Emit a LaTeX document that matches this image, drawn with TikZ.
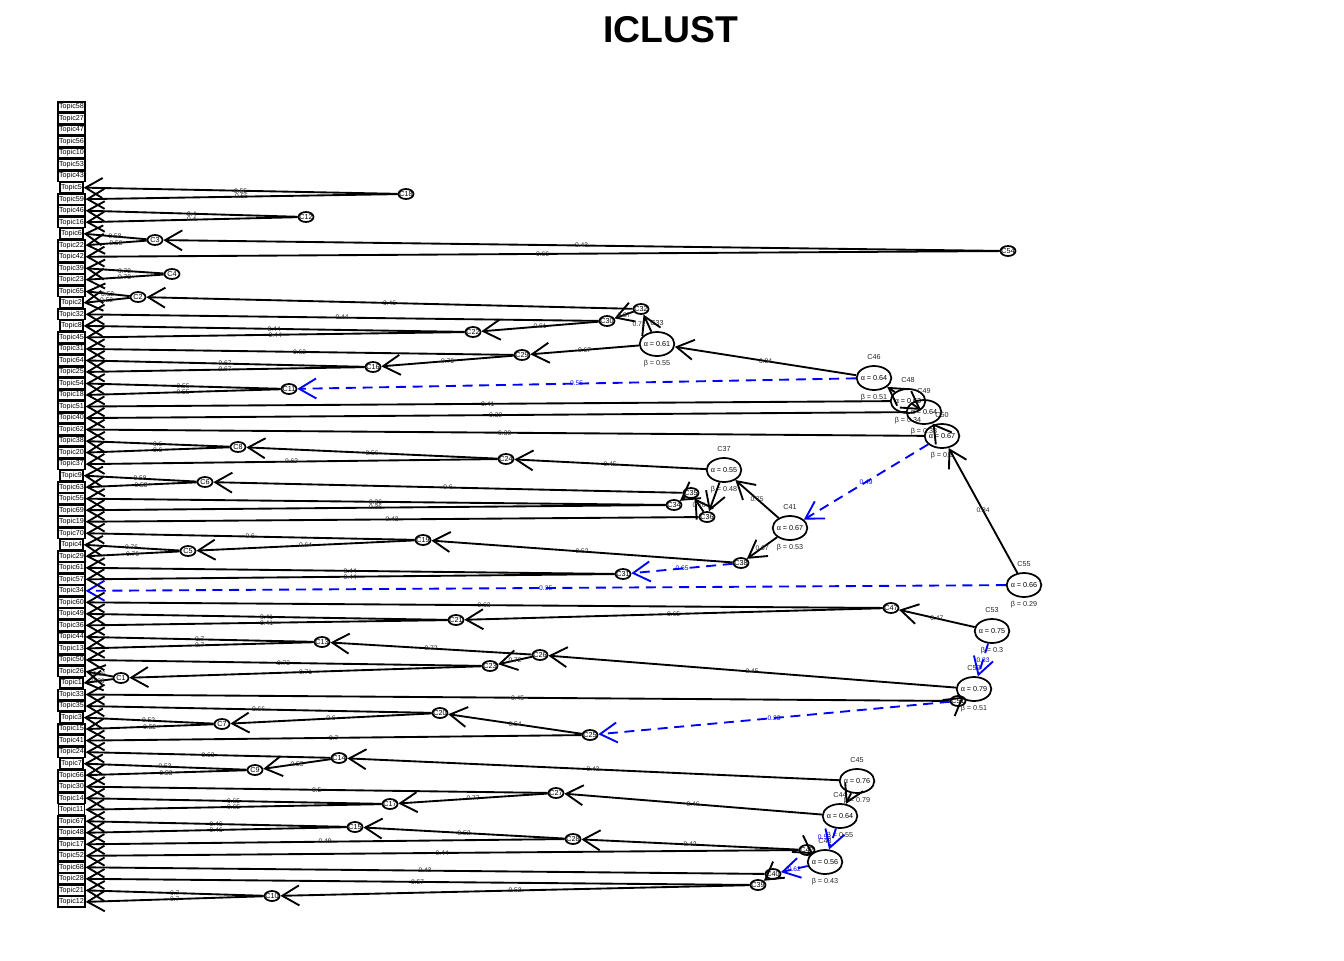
\documentclass[tikz,border=0pt]{standalone}
\usepackage{fontspec}
\setmainfont{Liberation Sans}
\usetikzlibrary{shapes.geometric,arrows.meta}
\newcommand\zc[1]{\makebox[0pt]{#1}}
\tikzset{
 every node/.style={font=\fontsize{5.4}{6}\selectfont},
 topic/.style={draw, line width=1.2pt, rectangle, inner xsep=0.7pt, inner ysep=0pt, minimum height=7.8pt, fill=white},
 sc/.style={draw, ellipse, line width=1.3pt, minimum width=11.25pt, minimum height=7.5pt, inner sep=0pt},
 bc/.style={draw, ellipse, line width=1.3pt, minimum width=26pt, minimum height=18pt, inner sep=0pt},
 link/.style={line width=1.4pt, -{Straight Barb[length=12.75pt,width=15pt]}},
 neg/.style={link, draw=blue, dash pattern=on 7.5pt off 5pt},
 lab/.style={inner sep=0pt, font=\fontsize{5}{6}\selectfont, text=black!85},
 nlab/.style={lab, text=blue},
}
\newcommand\lk[3]{\draw[link] (#1) -- (#2) node[lab,midway]{#3};}
\newcommand\nk[3]{\draw[neg] (#1) -- (#2) node[nlab,midway]{#3};}
\newcommand\sclu[3]{\node[sc] (#1) at (#2,#3) {\zc{#1}};}
\newcommand\bclu[5]{\node[bc] (#1) at (#2,#3) {\zc{α = #4}};
 \node[lab,font=\fontsize{5.4}{6}\selectfont] (#1name) at (#2,#3-21) {#1};
 \node[lab,font=\fontsize{5.4}{6}\selectfont] (#1beta) at (#2,#3+20) {β = #5};}
\begin{document}
\begin{tikzpicture}[x=0.75pt,y=-0.75pt]
\useasboundingbox (0,0) rectangle (1344,960);
\node[font=\bfseries\fontsize{28}{30}\selectfont] (title) at (671,30) {ICLUST};
\foreach \t [count=\i from 0] in {58,27,47,56,10,53,43,5,59,46,16,6,22,42,39,23,65,2,32,8,45,31,64,25,54,18,51,40,62,38,20,37,9,63,55,69,19,70,4,29,61,57,34,60,49,36,44,13,50,26,1,33,35,3,15,41,24,7,66,30,14,11,67,48,17,52,68,28,21,12}
 {\node[topic] (T\t) at (71.5,{107+11.52*\i}) {Topic\t};}
% small clusters
\sclu{C18}{406}{194}
\sclu{C12}{306}{217}
\sclu{C3}{155}{240}
\sclu{C54}{1008}{251}
\sclu{C4}{172}{274}
\sclu{C2}{138}{297}
\sclu{C32}{641}{309}
\sclu{C30}{607}{321}
\sclu{C22}{473}{332}
\sclu{C29}{522}{355}
\sclu{C16}{373}{367}
\sclu{C11}{289}{389}
\sclu{C8}{238}{447}
\sclu{C24}{506}{459}
\sclu{C6}{205}{482}
\sclu{C35}{691}{493}
\sclu{C34}{674}{505}
\sclu{C36}{707}{517}
\sclu{C19}{423}{540}
\sclu{C5}{188}{551}
\sclu{C38}{741}{563}
\sclu{C31}{623}{574}
\sclu{C47}{891}{608}
\sclu{C21}{456}{620}
\sclu{C13}{322}{642}
\sclu{C26}{540}{655}
\sclu{C23}{490}{666}
\sclu{C1}{121}{678}
\sclu{C51}{958}{701}
\sclu{C20}{440}{713}
\sclu{C7}{222}{724}
\sclu{C25}{590}{735}
\sclu{C14}{339}{758}
\sclu{C9}{255}{770}
\sclu{C27}{556}{793}
\sclu{C17}{390}{804}
\sclu{C15}{355}{827}
\sclu{C28}{573}{839}
\sclu{C42}{807}{850}
\sclu{C40}{773}{874}
\sclu{C39}{758}{885}
\sclu{C10}{272}{896}
% big clusters
\bclu{C33}{657}{344}{0.61}{0.55}
\bclu{C46}{874}{378}{0.64}{0.51}
\bclu{C48}{908}{401}{0.63}{0.34}
\bclu{C49}{924}{412}{0.64}{0.33}
\bclu{C50}{942}{436}{0.67}{0.3}
\bclu{C37}{724}{470}{0.55}{0.48}
\bclu{C41}{790}{528}{0.67}{0.53}
\bclu{C55}{1024}{585}{0.66}{0.29}
\bclu{C53}{992}{631}{0.75}{0.3}
\bclu{C52}{974}{689}{0.79}{0.51}
\bclu{C45}{857}{781}{0.76}{0.79}
\bclu{C44}{840}{816}{0.64}{0.55}
\bclu{C43}{825}{862}{0.56}{0.43}
% links
\lk{C18}{T5.east}{0.55}
\lk{C18}{T59.east}{0.55}
\lk{C12}{T46.east}{0.4}
\lk{C12}{T16.east}{0.4}
\lk{C3}{T6.east}{0.58}
\lk{C3}{T22.east}{0.58}
\lk{C54}{C3}{0.43}
\lk{C54}{T42.east}{0.66}
\lk{C4}{T39.east}{0.78}
\lk{C4}{T23.east}{0.78}
\lk{C2}{T65.east}{0.52}
\lk{C2}{T2.east}{0.52}
\lk{C32}{C2}{0.46}
\lk{C32}{C30}{0.87}
\lk{C30}{T32.east}{0.44}
\lk{C30}{C22}{0.61}
\lk{C22}{T8.east}{0.44}
\lk{C22}{T45.east}{0.44}
\draw[link] (C33) -- (C32) node[lab,pos=0.45,left=1pt]{0.72};
\lk{C33}{C29}{0.67}
\lk{C29}{T31.east}{0.62}
\lk{C29}{C16}{0.73}
\lk{C16}{T64.east}{0.67}
\lk{C16}{T25.east}{0.67}
\lk{C46}{C33}{0.84}
\nk{C46}{C11}{0.55}
\lk{C11}{T54.east}{0.55}
\lk{C11}{T18.east}{0.55}
\lk{C48}{C46}{}
\lk{C48}{T51.east}{0.41}
\lk{C49}{C48}{}
\lk{C49}{T40.east}{0.39}
\lk{C50}{C49}{}
\lk{C50}{T62.east}{0.39}
\nk{C50}{C41}{0.49}
\lk{C55}{C50}{0.84}
\nk{C55}{T34.east}{0.35}
\lk{C41}{C37}{0.75}
\lk{C41}{C38}{0.67}
\lk{C37}{C24}{0.45}
\lk{C37}{C36}{}
\lk{C24}{C8}{0.56}
\lk{C24}{T37.east}{0.62}
\lk{C8}{T38.east}{0.6}
\lk{C8}{T20.east}{0.6}
\lk{C36}{C35}{0.76}
\lk{C36}{T19.east}{0.43}
\lk{C35}{C6}{0.6}
\lk{C35}{C34}{}
\lk{C6}{T9.east}{0.58}
\lk{C6}{T63.east}{0.58}
\lk{C34}{T55.east}{0.36}
\lk{C34}{T69.east}{0.36}
\lk{C38}{C19}{0.52}
\nk{C38}{C31}{0.65}
\lk{C19}{T70.east}{0.6}
\lk{C19}{C5}{0.64}
\lk{C5}{T4.east}{0.76}
\lk{C5}{T29.east}{0.76}
\lk{C31}{T61.east}{0.44}
\lk{C31}{T57.east}{0.44}
\lk{C53}{C47}{0.47}
\nk{C53}{C52}{0.83}
\lk{C47}{T60.east}{0.63}
\lk{C47}{C21}{0.65}
\lk{C21}{T49.east}{0.41}
\lk{C21}{T36.east}{0.41}
\lk{C52}{C26}{0.45}
\lk{C52}{C51}{}
\lk{C26}{C13}{0.72}
\lk{C26}{C23}{0.72}
\lk{C13}{T44.east}{0.7}
\lk{C13}{T13.east}{0.7}
\lk{C23}{T50.east}{0.73}
\lk{C23}{C1}{0.71}
\lk{C1}{T26.east}{0.86}
\lk{C1}{T1.east}{0.86}
\lk{C51}{T33.east}{0.45}
\nk{C51}{C25}{0.23}
\lk{C25}{C20}{0.54}
\lk{C25}{T41.east}{0.7}
\lk{C20}{T35.east}{0.66}
\lk{C20}{C7}{0.6}
\lk{C7}{T3.east}{0.52}
\lk{C7}{T15.east}{0.52}
\lk{C45}{C14}{0.43}
\lk{C45}{C44}{}
\lk{C14}{T24.east}{0.63}
\lk{C14}{C9}{0.55}
\lk{C9}{T7.east}{0.53}
\lk{C9}{T66.east}{0.53}
\lk{C44}{C27}{0.46}
\draw[neg] (C44) -- (C43) node[nlab,pos=0.4,left=1pt]{0.55};
\lk{C27}{T30.east}{0.5}
\lk{C27}{C17}{0.77}
\lk{C17}{T14.east}{0.65}
\lk{C17}{T11.east}{0.65}
\lk{C43}{C42}{}
\nk{C43}{C40}{0.62}
\lk{C42}{C28}{0.42}
\lk{C42}{T52.east}{0.44}
\lk{C28}{C15}{0.52}
\lk{C28}{T17.east}{0.49}
\lk{C15}{T67.east}{0.46}
\lk{C15}{T48.east}{0.46}
\lk{C40}{T68.east}{0.43}
\lk{C40}{C39}{}
\lk{C39}{T28.east}{0.57}
\lk{C39}{C10}{0.52}
\lk{C10}{T21.east}{0.7}
\lk{C10}{T12.east}{0.7}
\end{tikzpicture}
\end{document}
